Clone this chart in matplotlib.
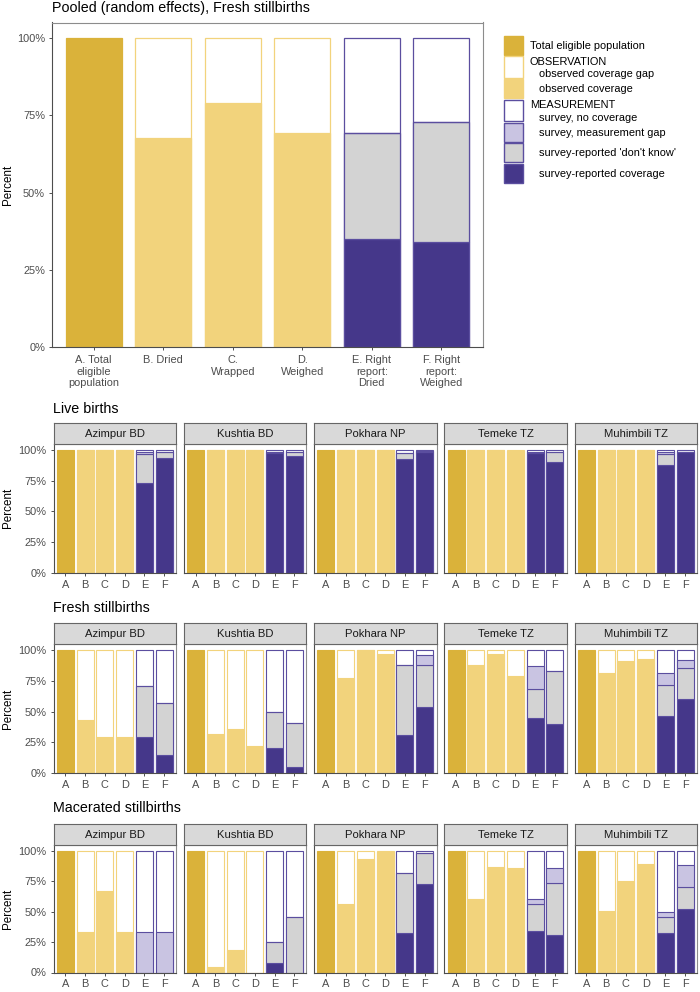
import numpy as np
import matplotlib
matplotlib.use('Agg')
import matplotlib.pyplot as plt
from matplotlib.patches import Rectangle

plt.rcParams['font.family'] = ['Liberation Sans', 'DejaVu Sans']

# colours
gold_dark = '#DAB23A'
gold_light = '#F2D37C'
purple = '#45378A'
purple_edge = '#5B4E9F'
lavender = '#C9C4E2'
grey = '#D3D3D3'
tick_col = '#4D4D4D'
frame_col = '#666666'

# data (percent)
pooled_labels = ['A. Total\neligible\npopulation', 'B. Dried', 'C.\nWrapped', 'D.\nWeighed',
                 'E. Right\nreport:\nDried', 'F. Right\nreport:\nWeighed']
pooled_obs = [67.6, 79.1, 69.4]      # B, C, D observed coverage
pooled_cov = [35.0, 33.9]            # E, F survey-reported coverage
pooled_dk = [34.4, 38.8]             # E, F don't know
pooled_gap = [0.0, 0.0]              # E, F measurement gap

sites = ['Azimpur BD', 'Kushtia BD', 'Pokhara NP', 'Temeke TZ', 'Muhimbili TZ']
short_labels = ['A', 'B', 'C', 'D', 'E', 'F']
row_titles = ['Live births', 'Fresh stillbirths', 'Macerated stillbirths']

live_obs = [[100, 100, 100], [100, 100, 100], [100, 100, 100], [100, 100, 99.3], [100, 100, 100]]
live_cov = [[73.4, 93.2], [97.5, 95.4], [92.9, 98.6], [97.8, 90.5], [88.0, 98.6]]
live_dk = [[23.1, 4.9], [0.6, 3.0], [4.9, 0.0], [0.0, 7.9], [8.7, 0.0]]
live_gap = [[1.9, 0.0], [0.0, 0.0], [0.0, 0.4], [0.4, 0.0], [1.4, 0.0]]

fresh_obs = [[42.9, 28.8, 28.8], [31.3, 35.6, 22.0], [77.4, 100, 97.0], [87.8, 97.0, 79.3], [81.8, 91.3, 92.7]]
fresh_cov = [[28.8, 14.4], [20.4, 4.9], [30.7, 53.8], [44.8, 40.0], [46.5, 60.1]]
fresh_dk = [[42.1, 42.4], [29.3, 35.9], [57.1, 34.5], [24.0, 43.2], [25.0, 25.5]]
fresh_gap = [[0.0, 0.0], [0.0, 0.0], [0.0, 8.2], [18.4, 0.0], [10.0, 6.8]]

mac_obs = [[33.4, 66.6, 33.4], [4.4, 18.4, 0.0], [56.4, 93.2, 99.2], [60.3, 86.8, 85.8], [50.1, 75.1, 89.0]]
mac_cov = [[0.0, 0.0], [8.2, 0.0], [32.1, 72.3], [34.2, 30.4], [32.1, 51.8]]
mac_dk = [[0.0, 0.0], [16.7, 45.5], [49.5, 26.1], [22.2, 43.3], [13.1, 18.3]]
mac_gap = [[33.4, 33.4], [0.0, 0.0], [0.0, 0.0], [3.6, 11.8], [4.4, 18.1]]

rows = [(live_obs, live_cov, live_dk, live_gap),
        (fresh_obs, fresh_cov, fresh_dk, fresh_gap),
        (mac_obs, mac_cov, mac_dk, mac_gap)]

legend_entries = [
    (None, 'Total eligible population', gold_dark, gold_dark),
    ('OBSERVATION', '   observed coverage gap', 'white', gold_light),
    (None, '   observed coverage', gold_light, gold_light),
    ('MEASUREMENT', '   survey, no coverage', 'white', purple_edge),
    (None, '   survey, measurement gap', lavender, purple_edge),
    (None, "   survey-reported 'don't know'", grey, purple_edge),
    (None, '   survey-reported coverage', purple, purple_edge),
]

W, H = 700, 992
fig = plt.figure(figsize=(W / 100, H / 100), dpi=100)


def px_axes(x0, y0, x1, y1, **kw):
    return fig.add_axes([x0 / W, 1 - y1 / H, (x1 - x0) / W, (y1 - y0) / H], **kw)


def draw_bars(ax, obs, cov, dk, gap, width, lw=0.9):
    x = np.arange(6)
    cov = np.array(cov)
    dk = np.array(dk)
    ax.bar(x[0], 100, width, color=gold_dark, edgecolor=gold_dark, lw=lw)
    ax.bar(x[1:4], 100, width, color='white', edgecolor=gold_light, lw=lw)
    ax.bar(x[1:4], obs, width, color=gold_light, edgecolor=gold_light, lw=lw)
    ax.bar(x[4:], 100, width, color='white', edgecolor=purple_edge, lw=lw)
    ax.bar(x[4:], cov, width, color=purple, edgecolor=purple_edge, lw=lw)
    ax.bar(x[4:], dk, width, bottom=cov, color=grey, edgecolor=purple_edge, lw=lw)
    ax.bar(x[4:], gap, width, bottom=cov + dk, color=lavender, edgecolor=purple_edge, lw=lw)
    ax.set_xlim(-0.6, 5.6)
    ax.set_ylim(0, 105)
    ax.set_yticks([0, 25, 50, 75, 100])
    ax.set_yticklabels(['0%', '25%', '50%', '75%', '100%'])
    ax.tick_params(labelsize=7.9, labelcolor=tick_col, color='#333333', length=2.5, width=0.6, pad=2.5)
    for s in ax.spines.values():
        s.set_color('#8C8C8C')
        s.set_linewidth(0.8)
    ax.spines['left'].set_color('#4D4D4D')
    ax.spines['bottom'].set_color('#4D4D4D')


# top pooled panel
ax0 = px_axes(52, 22.5, 483, 347.3)
draw_bars(ax0, pooled_obs, pooled_cov, pooled_dk, pooled_gap, 0.81)
ax0.set_xticks(np.arange(6))
ax0.set_xticklabels(pooled_labels, linespacing=1.18)
ax0.tick_params(axis='x', pad=3.2)
fig.text(52 / W, 1 - 8 / H, 'Pooled (random effects), Fresh stillbirths', fontsize=10.3, va='center', ha='left')
fig.text(7.5 / W, 1 - 185 / H, 'Percent', fontsize=8.4, rotation=90, va='center', ha='center')

# facet rows
panel_tops = [444, 644.3, 844.5]
panel_bots = [572.7, 772.7, 972.5]
head_y = [409, 608, 808]
for r, (obs, cov, dk, gap) in enumerate(rows):
    fig.text(53 / W, 1 - head_y[r] / H, row_titles[r], fontsize=10.3, va='center', ha='left')
    fig.text(7.5 / W, 1 - (panel_tops[r] + panel_bots[r]) / 2 / H, 'Percent', fontsize=8.4,
             rotation=90, va='center', ha='center')
    for i, site in enumerate(sites):
        x0 = 53.5 + i * 130.25
        x1 = x0 + 122.5
        ax = px_axes(x0, panel_tops[r], x1, panel_bots[r])
        draw_bars(ax, obs[i], cov[i], dk[i], gap[i], 0.87, lw=0.8)
        ax.set_xticks(np.arange(6))
        ax.set_xticklabels(short_labels)
        if i > 0:
            ax.tick_params(axis='y', left=False, labelleft=False)
        sax = px_axes(x0, panel_tops[r] - 21, x1, panel_tops[r])
        sax.set_facecolor('#D9D9D9')
        sax.set_xticks([])
        sax.set_yticks([])
        for s in sax.spines.values():
            s.set_color(frame_col)
            s.set_linewidth(0.8)
        sax.text(0.5, 0.47, site, fontsize=8.1, color='#1A1A1A', ha='center', va='center',
                 transform=sax.transAxes)

# legend drawn in pixel space
lax = px_axes(0, 0, W, H)
lax.set_xlim(0, W)
lax.set_ylim(H, 0)
lax.axis('off')
y = 35
for header, label, fill, edge in legend_entries:
    h = 22.5 if header else 20
    lax.add_patch(Rectangle((503.5, y + 0.5), 19, h - 1, facecolor=fill, edgecolor=edge, lw=1.0))
    if header:
        lax.text(530, y + 6.3, header, fontsize=7.9, va='center', ha='left')
        lax.text(530, y + 18.8, label, fontsize=7.9, va='center', ha='left')
    else:
        lax.text(530, y + h / 2 + 0.8, label, fontsize=7.9, va='center', ha='left')
    y += h + 0.5

fig.savefig('out.png', dpi=100)
